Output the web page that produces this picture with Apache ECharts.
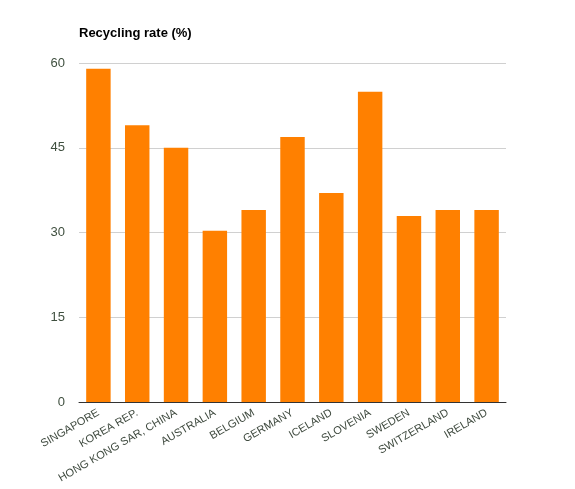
<!DOCTYPE html>
<html>
<head>
<meta charset="utf-8">
<script src="https://cdn.jsdelivr.net/npm/echarts@6/dist/echarts.min.js"></script>
<style>
  html, body { margin: 0; padding: 0; background: #fff; }
  #chart { width: 575px; height: 489px; }
</style>
</head>
<body>
<div id="chart"></div>
<script>
const countries = [
  'SINGAPORE', 'KOREA REP.', 'HONG KONG SAR, CHINA', 'AUSTRALIA', 'BELGIUM',
  'GERMANY', 'ICELAND', 'SLOVENIA', 'SWEDEN', 'SWITZERLAND', 'IRELAND'
]
const recyclingRate = [59, 49, 45, 30.3, 34, 46.9, 37, 54.9, 32.9, 34, 34]
const yTicks = [0, 15, 30, 45, 60]

const chart = echarts.init(document.getElementById('chart'))

chart.setOption({
  animation: false,
  title: {
    text: 'Recycling rate (%)',
    left: 74,
    top: 22,
    textStyle: {
      fontFamily: 'Arial, Liberation Sans, sans-serif',
      fontSize: 13,
      fontWeight: 'bold',
      color: '#000'
    }
  },
  grid: {
    left: 79,
    right: 69,
    top: 63,
    bottom: 87
  },
  xAxis: {
    type: 'category',
    data: countries,
    axisLine: { lineStyle: { color: '#333', width: 1 } },
    axisTick: { show: false },
    axisLabel: {
      interval: 0,
      rotate: 30,
      fontSize: 11,
      fontFamily: 'Arial, Liberation Sans, sans-serif',
      color: '#3f4a3f',
      margin: 10
    }
  },
  yAxis: {
    type: 'value',
    min: yTicks[0],
    max: yTicks[yTicks.length - 1],
    interval: 15,
    axisLine: { show: false },
    axisTick: { show: false },
    axisLabel: {
      fontSize: 13,
      fontFamily: 'Arial, Liberation Sans, sans-serif',
      color: '#3f4f3f',
      margin: 14
    },
    splitLine: { lineStyle: { color: '#d0d0d0', width: 1 } }
  },
  series: [{
    type: 'bar',
    data: recyclingRate,
    barWidth: '63%',
    itemStyle: { color: '#ff8000' }
  }]
})
</script>
</body>
</html>
